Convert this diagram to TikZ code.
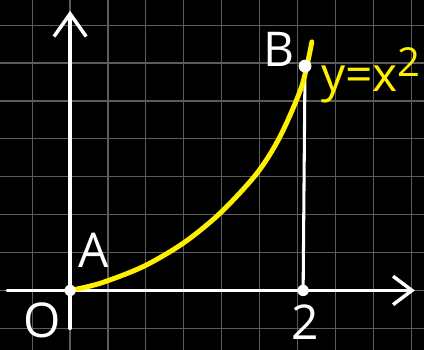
\documentclass[tikz,border=0pt]{standalone}
\usepackage{fontspec}
\setmainfont{Open Sans}
\usepackage{tikz}
\usetikzlibrary{arrows.meta}
\definecolor{boardblack}{RGB}{0, 0, 0}
\definecolor{boardgrey} {RGB}{92, 92, 92}
\definecolor{chalkyellow}{RGB}{255, 240, 0}
\tikzset{
	gridline/.style={boardgrey, line width=0.9pt},
	axisline/.style={white, line width=2.6pt, line cap=round},
	chalk/.style={white, inner sep=0pt, font=\fontsize{36}{38}\selectfont},
	pointdot/.style={white, fill=white}
}

\begin{document}
\begin{tikzpicture}
	% board
	\clip (-1.85,-1.57) rectangle (9.34,7.665);
	\fill[boardblack] (-1.85,-1.57) rectangle (9.34,7.665);
	\draw[gridline] (-2,-2) grid (10,8);
	% axes
	\draw[axisline,-{Straight Barb[length=0.5cm,width=0.75cm]}] (-1.66,0) -- (9.1,0);
	\draw[axisline,-{Straight Barb[length=0.6cm,width=0.85cm]}] (0,-1) -- (0,7.38);
	% points
	\coordinate (A) at (0,0);
	\coordinate (B) at (6.2,5.92);
	\coordinate (P2) at (6.15,0);
	\draw[axisline,line width=2.3pt] (B) -- (P2);
	\draw[chalkyellow,line width=3.7pt,line cap=round] plot[smooth] coordinates {
		(A) (0.8,0.19) (1.93,0.63) (2.99,1.25) (3.96,2.04) (4.93,3.09)
		(5.54,4.06) (6.11,5.38) (6.38,6.56)};
	\fill[pointdot] (A) circle (0.15);
	\fill[pointdot] (B) circle (0.17);
	\fill[pointdot] (P2) circle (0.15);
	% labels
	\node[chalk] (labO) at (-0.74,-0.8) {O};
	\node[chalk] (labA) at (0.63,1.07) {A};
	\node[chalk] (labB) at (5.51,6.37) {B};
	\node[chalk] (lab2) at (6.2,-0.84) {2};
	\node[chalk,text=chalkyellow,anchor=base west] (curvelab) at (6.62,5.24)
		{y=x\raisebox{0.6ex}{\fontsize{30}{30}\selectfont 2}};
\end{tikzpicture}
\end{document}
